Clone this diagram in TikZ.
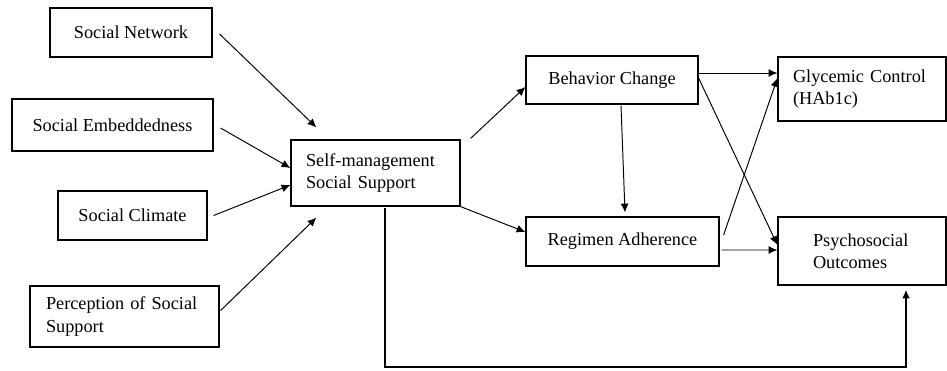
\documentclass[tikz,border=0pt]{standalone}
\usepackage{fontspec}
\setmainfont{Liberation Serif}
\usepackage{tikz}
\usetikzlibrary{calc,arrows.meta,positioning}

\tikzset{
    box/.style={draw, line width=0.7pt, font=\fontsize{10.4}{12.6}\selectfont, inner sep=0pt},
    arr/.style={-{Latex[length=5pt,width=4.5pt]}, line width=0.55pt}
}

\begin{document}
\begin{tikzpicture}[x=0.02cm, y=-0.02cm]
    \useasboundingbox (0,0) rectangle (947,370);

    % the factors on the left
    \node[box, minimum width=3.24cm, minimum height=0.98cm] (net) at (131,32.5) {Social Network};
    \node[box, minimum width=4.02cm, minimum height=1.04cm] (emb) at (112.5,125) {Social Embeddedness};
    \node[box, minimum width=2.98cm, minimum height=0.98cm] (clim) at (132.5,215.5) {Social Climate};
    \node[box, minimum height=1.22cm, inner xsep=0.32cm, text width=3.14cm, align=left] (perc) at (124.5,316.5) {Perception of Social\\Support};

    % the middle
    \node[box, minimum height=1.32cm, inner xsep=0.3cm, text width=2.78cm, align=left] (sms) at (375.5,173) {Self-management\\Social Support};
    \node[box, minimum width=3.44cm, minimum height=0.96cm] (beh) at (612,80) {Behavior Change};
    \node[box, minimum width=3.86cm, minimum height=0.98cm] (reg) at (622.5,241.5) {Regimen Adherence};

    % the outcomes
    \node[box, minimum height=1.28cm, inner xsep=0.3cm, text width=2.76cm, align=left] (gly) at (862,89) {Glycemic Control\\(HAb1c)};
    \node[box, minimum height=1.36cm, inner xsep=0.7cm, text width=1.96cm, align=left] (psy) at (862,251) {Psychosocial\\Outcomes};

    % draw the arrows
    \draw[arr] ($(net.east)+(7,1.5)$) -- ($(sms.north west)+(26,-12)$);
    \draw[arr] ($(emb.east)+(7,3)$) -- ($(sms.west)+(0,-5)$);
    \draw[arr] ($(clim.east)+(6,0)$) -- ($(sms.west)+(0,12)$);
    \draw[arr] ($(perc.east)+(1,-6)$) -- ($(sms.south west)+(26,11)$);

    \draw[arr] ($(sms.north east)+(10,-1)$) -- ($(beh.west)+(0,7)$);
    \draw[arr] (sms.south east) -- ($(reg.west)+(0,-9.5)$);
    \draw[arr] ($(beh.south)+(9,1)$) -- ($(reg.north)+(2.5,-4)$);

    \draw[arr] ($(beh.east)+(0,-7)$) -- ($(gly.west)+(0,-16)$);
    \draw[arr] ($(beh.east)+(0,-2)$) -- ($(psy.west)+(0,-6)$);
    \draw[arr] ($(reg.east)+(4,-6.5)$) -- ($(gly.west)+(0,-11)$);
    \draw[arr] ($(reg.east)+(2,8.5)$) -- ($(psy.west)+(0,-1)$);

    % the long way round
    \coordinate (bend) at (906,367);
    \draw[arr, line width=1pt] ($(sms.south)+(9.5,1)$) |- (bend) -- ($(psy.south)+(44,4)$);

\end{tikzpicture}
\end{document}
